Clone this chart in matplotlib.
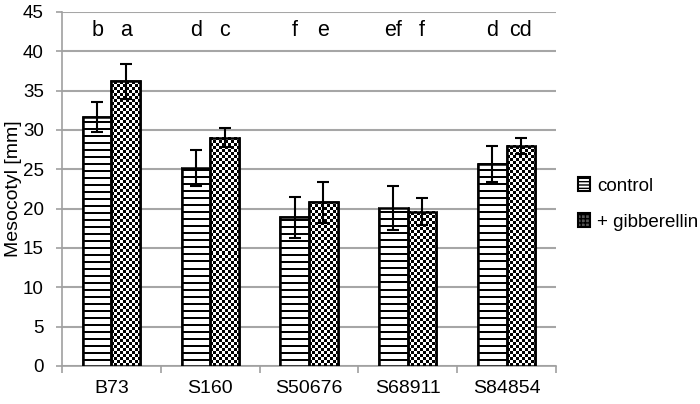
import numpy as np
import matplotlib.pyplot as plt
from matplotlib.patches import Patch

plt.rcParams['font.family'] = ['Liberation Sans', 'DejaVu Sans']
plt.rcParams['hatch.linewidth'] = 1.0

lines = ["B73", "S160", "S50676", "S68911", "S84854"]
control = [31.6, 25.2, 18.9, 20.1, 25.7]
control_err = [1.9, 2.3, 2.6, 2.8, 2.3]
gib = [36.2, 29.0, 20.8, 19.6, 28.0]
gib_err = [2.2, 1.2, 2.6, 1.7, 1.0]
letters_control = ["b", "d", "f", "ef", "d"]
letters_gib = ["a", "c", "e", "f", "cd"]

fig = plt.figure(figsize=(7, 4.04), dpi=100)
ax = fig.add_axes([62/700, 1 - 366/404, 494/700, 354/404])
ax.set_xlim(-0.5, len(lines) - 0.5)
ax.set_ylim(0, 45)

x = np.arange(len(lines))
w = 0.29
b1 = ax.bar(x - w/2, control, w, facecolor='white', edgecolor='black', linewidth=1.8, zorder=3)
b2 = ax.bar(x + w/2, gib, w, facecolor='white', edgecolor='black', linewidth=1.8, zorder=3)


def pattern(kind, nx, ny):
    yy, xx = np.mgrid[0:ny, 0:nx]
    yy = yy[::-1]  # count from the bottom of the bar
    if kind == 'stripes':
        return ((yy % 7) >= 5).astype(float)
    return (((yy // 3) + (xx // 3)) % 2).astype(float)


# fill each bar with its pattern (image sized to the bar in pixels)
for bars, kind in [(b1, 'stripes'), (b2, 'checks')]:
    for bar in bars:
        x0, y0 = bar.get_x(), bar.get_y()
        x1, y1 = x0 + bar.get_width(), y0 + bar.get_height()
        p0 = ax.transData.transform((x0, y0))
        p1 = ax.transData.transform((x1, y1))
        nx = max(int(round(p1[0] - p0[0])), 1)
        ny = max(int(round(p1[1] - p0[1])), 1)
        ax.imshow(pattern(kind, nx, ny), cmap='gray_r', vmin=0, vmax=1,
                  extent=[x0, x1, y0, y1], interpolation='nearest',
                  aspect='auto', zorder=3.2)

# outlines on top
ax.bar(x - w/2, control, w, facecolor='none', edgecolor='black', linewidth=1.8, zorder=3.5)
ax.bar(x + w/2, gib, w, facecolor='none', edgecolor='black', linewidth=1.8, zorder=3.5)

ax.errorbar(x - w/2, control, yerr=control_err, fmt='none', ecolor='black',
            elinewidth=1.5, capsize=4, capthick=1.5, zorder=4)
ax.errorbar(x + w/2, gib, yerr=gib_err, fmt='none', ecolor='black',
            elinewidth=1.5, capsize=4, capthick=1.5, zorder=4)

for i in range(len(lines)):
    ax.text(x[i] - w/2, 42.6, letters_control[i], ha='center', va='center', fontsize=15.5)
    ax.text(x[i] + w/2, 42.6, letters_gib[i], ha='center', va='center', fontsize=15.5)

ax.set_xlim(-0.5, len(lines) - 0.5)
ax.set_ylim(0, 45)
ax.set_yticks(np.arange(0, 46, 5))
ax.set_xticks(x)
ax.set_xticklabels(lines, fontsize=14)
ax.set_xticks(np.arange(-0.5, len(lines), 1), minor=True)
ax.tick_params(axis='x', which='major', length=0, pad=10)
ax.tick_params(axis='x', which='minor', length=5, color='#a0a0a0', width=1.2)
ax.tick_params(axis='y', length=4, color='#a0a0a0', width=1.2, labelsize=13.5, pad=9)
ax.yaxis.grid(True, color='#a6a6a6', linewidth=1.5, zorder=0)
ax.set_axisbelow(True)
for s in ['top', 'right']:
    ax.spines[s].set_visible(False)
for s in ['left', 'bottom']:
    ax.spines[s].set_color('#a0a0a0')
    ax.spines[s].set_linewidth(1.2)
ax.set_ylabel("Mesocotyl [mm]", fontsize=14, labelpad=1)

handles = [Patch(facecolor='white', edgecolor='black', hatch='-----', linewidth=1.5),
           Patch(facecolor='#555555', edgecolor='black', hatch='++++', linewidth=1.5)]
fig.legend(handles, ["control", "+ gibberellin"], loc='center left',
           bbox_to_anchor=(578/700, 0.495), borderaxespad=0, borderpad=0,
           frameon=False, fontsize=13.5,
           handlelength=0.65, handleheight=0.75, handletextpad=0.35, labelspacing=1.0)

fig.savefig("out.png", dpi=100)
